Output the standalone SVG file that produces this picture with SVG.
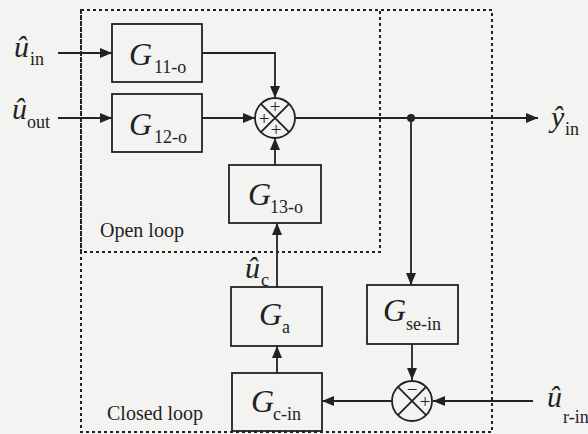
<svg xmlns="http://www.w3.org/2000/svg" width="588" height="434" viewBox="0 0 588 434">
<defs>
<marker id="arr" markerUnits="userSpaceOnUse" markerWidth="13" markerHeight="11" refX="12" refY="5" orient="auto">
<path d="M0,0 L12,5 L0,10 Z" fill="#222"/>
</marker>
<style>
.bg{fill:#f3f3f1}
.blk{fill:none;stroke:#222;stroke-width:1.8}
.ln{fill:none;stroke:#222;stroke-width:1.8}
.ar{marker-end:url(#arr)}
.dash{fill:none;stroke:#222;stroke-width:2;stroke-dasharray:3 3}
.G{font-family:"Liberation Serif",serif;font-style:italic;font-size:32px;fill:#222}
.sub{font-family:"Liberation Serif",serif;font-size:18px;fill:#222}
.var{font-family:"Liberation Serif",serif;font-style:italic;font-size:30px;fill:#222}
.lbl{font-family:"Liberation Serif",serif;font-size:20px;fill:#222}
.sg{font-family:"Liberation Serif",serif;font-size:19px;fill:#222;text-anchor:middle}
</style>
</defs>
<rect class="bg" x="0" y="0" width="588" height="434"/>

<g id="regions">
<rect id="open-loop-box" class="dash" x="81" y="10" width="299" height="242"/>
<rect id="closed-loop-box" class="dash" x="81" y="10" width="411" height="422"/>
<text class="lbl" x="100" y="237">Open loop</text>
<text class="lbl" x="107" y="420">Closed loop</text>
</g>

<g id="connectors">
<path class="ln ar" d="M58,53 H112"/>
<path class="ln ar" d="M58,118 H112"/>
<path class="ln ar" d="M202,53 H275 V98"/>
<path class="ln ar" d="M202,118 H255"/>
<path class="ln ar" d="M275,165 V138"/>
<path class="ln ar" d="M295,118 H538"/>
<circle cx="411" cy="118" r="4" fill="#222"/>
<path class="ln ar" d="M411,118 V285"/>
<path class="ln ar" d="M412,344 V380"/>
<path class="ln ar" d="M533,401 H433"/>
<path class="ln ar" d="M392,401 H322"/>
<path class="ln ar" d="M277,373 V346"/>
<path class="ln ar" d="M277,287 V223"/>
</g>

<g id="u-in"><text class="var" x="14" y="57">û</text><text class="sub" x="30" y="65">in</text></g>
<g id="u-out"><text class="var" x="12" y="119">û</text><text class="sub" x="27" y="128">out</text></g>
<g id="y-in"><text class="var" x="551" y="127">ŷ</text><text class="sub" x="565" y="135">in</text></g>
<g id="u-r-in"><text class="var" x="547" y="407">û</text><text class="sub" x="563" y="423">r-in</text></g>
<g id="u-c"><text class="var" x="245" y="278">û</text><text class="sub" x="261" y="286">c</text></g>

<g id="G11-o"><rect class="blk" x="112" y="24" width="90" height="58"/><text class="G" x="129" y="65">G</text><text class="sub" x="154" y="73">11-o</text></g>
<g id="G12-o"><rect class="blk" x="112" y="94" width="90" height="58"/><text class="G" x="129" y="135">G</text><text class="sub" x="154" y="143">12-o</text></g>
<g id="G13-o"><rect class="blk" x="229" y="165" width="92" height="58"/><text class="G" x="248" y="205">G</text><text class="sub" x="270" y="213">13-o</text></g>
<g id="Ga"><rect class="blk" x="231" y="287" width="91" height="59"/><text class="G" x="259" y="325">G</text><text class="sub" x="282" y="333">a</text></g>
<g id="Gc-in"><rect class="blk" x="232" y="373" width="90" height="58"/><text class="G" x="251" y="412">G</text><text class="sub" x="273" y="420">c-in</text></g>
<g id="Gse-in"><rect class="blk" x="367" y="285" width="91" height="59"/><text class="G" x="383" y="321">G</text><text class="sub" x="406" y="330">se-in</text></g>

<g id="sum1">
<circle class="blk" cx="275" cy="118" r="20"/>
<path class="ln" d="M260.9,103.9 L289.1,132.1 M289.1,103.9 L260.9,132.1" stroke-width="1.4"/>
<text class="sg" x="275" y="113">+</text>
<text class="sg" x="264" y="125">+</text>
<text class="sg" x="276" y="136">+</text>
</g>
<g id="sum2">
<circle class="blk" cx="412" cy="401" r="20"/>
<path class="ln" d="M397.9,386.9 L426.1,415.1 M426.1,386.9 L397.9,415.1" stroke-width="1.4"/>
<text class="sg" x="412" y="396">−</text>
<text class="sg" x="425" y="408">+</text>
</g>
</svg>
